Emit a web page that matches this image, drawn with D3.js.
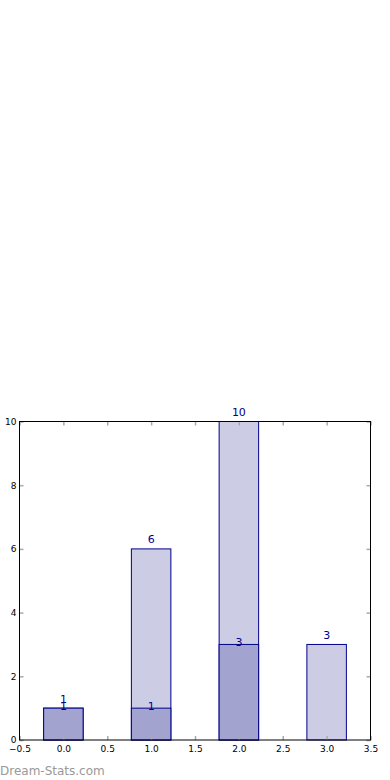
<!DOCTYPE html>
<html><head><meta charset="utf-8">
<script src="https://cdn.jsdelivr.net/npm/d3@7"></script>
<style>html,body{margin:0;padding:0;background:#fff;}svg{display:block;}</style>
</head><body>
<div id="chart"></div>
<script>
const categories = [0, 1, 2, 3];
const backValues = [1, 6, 10, 3];
const frontValues = [1, 1, 3, 0];
const xTicks = [-0.5, 0, 0.5, 1, 1.5, 2, 2.5, 3, 3.5];
const yTicks = [0, 2, 4, 6, 8, 10];

const W = 390, H = 780;
const svg = d3.select("#chart").append("svg").attr("width", W).attr("height", H);
const x = d3.scaleLinear().domain([-0.5, 3.5]).range([19.5, 370.5]);
const y = d3.scaleLinear().domain([0, 10]).range([740, 421.5]);
const bw = 0.45;
const font = "DejaVu Sans, sans-serif";
const navy = "#00008b";

// back bars
svg.selectAll("rect.back").data(categories).join("rect")
  .attr("x", d => x(d - bw/2)).attr("width", x(bw) - x(0))
  .attr("y", (d,i) => y(backValues[i])).attr("height", (d,i) => y(0) - y(backValues[i]))
  .attr("fill", "#ccccE5").attr("stroke", navy).attr("stroke-width", 1);
// front bars
svg.selectAll("rect.front").data(categories.filter((d,i)=>frontValues[i]>0)).join("rect")
  .attr("x", d => x(d - bw/2)).attr("width", x(bw) - x(0))
  .attr("y", d => y(frontValues[d])).attr("height", d => y(0) - y(frontValues[d]))
  .attr("fill", "#a3a3cf").attr("stroke", navy).attr("stroke-width", 1);

// axes frame with inward ticks
const gx = svg.append("g").attr("transform", `translate(0,${y(0)})`)
  .call(d3.axisBottom(x).tickValues(xTicks).tickSize(-4).tickPadding(6).tickFormat(d3.format(".1f")));
const gxt = svg.append("g").attr("transform", `translate(0,${y(10)})`)
  .call(d3.axisTop(x).tickValues(xTicks).tickSize(-4).tickFormat(""));
const gy = svg.append("g").attr("transform", `translate(${x(-0.5)},0)`)
  .call(d3.axisLeft(y).tickValues(yTicks).tickSize(-4).tickPadding(3).tickFormat(d3.format("d")));
const gyr = svg.append("g").attr("transform", `translate(${x(3.5)},0)`)
  .call(d3.axisRight(y).tickValues(yTicks).tickSize(-4).tickFormat(""));
[gx, gxt, gy, gyr].forEach(g => {
  g.select(".domain").remove();
  g.selectAll(".tick line").attr("stroke", "#aaa").attr("stroke-width", 1.5);
  g.selectAll(".tick text").attr("fill", "#000").attr("font-family", font).attr("font-size", 9);
});
svg.append("rect").attr("x", x(-0.5)).attr("y", y(10)).attr("width", x(3.5)-x(-0.5)).attr("height", y(0)-y(10))
  .attr("fill", "none").attr("stroke", "#000").attr("stroke-width", 1);

// value labels
svg.selectAll("text.bl").data(categories).join("text")
  .attr("x", d => x(d)).attr("y", (d,i) => y(backValues[i]) - 5.5)
  .attr("text-anchor", "middle").attr("font-family", font).attr("font-size", 11).attr("fill", navy)
  .text((d,i) => backValues[i]);
svg.selectAll("text.fl").data(categories.filter((d,i)=>frontValues[i]>0)).join("text")
  .attr("x", d => x(d)).attr("y", d => y(frontValues[d]) + 2)
  .attr("text-anchor", "middle").attr("font-family", font).attr("font-size", 11).attr("fill", navy)
  .text(d => frontValues[d]);

svg.append("text").attr("x", 0).attr("y", 775).attr("font-family", font).attr("font-size", 12)
  .attr("fill", "#999").text("Dream-Stats.com");
</script>
</body></html>
